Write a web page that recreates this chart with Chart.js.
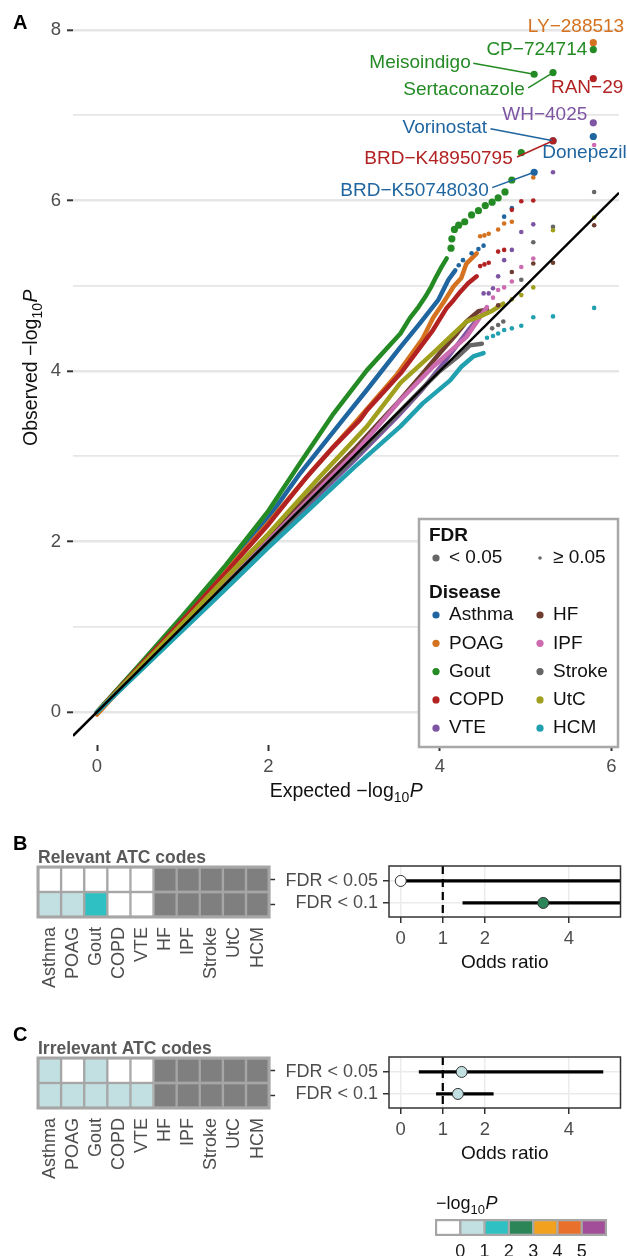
<!DOCTYPE html>
<html>
<head>
<meta charset="utf-8">
<script src="https://cdn.jsdelivr.net/npm/chart.js@4.4.1/dist/chart.umd.min.js"></script>
<style>
  body { margin: 0; background: #fff; }
  #page { position: relative; width: 627px; height: 1256px; overflow: hidden; font-family: "Liberation Sans", Arial, sans-serif; }
  canvas { position: absolute; }
  .tag { position: absolute; font-weight: bold; font-size: 20px; line-height: 20px; color: #000; }
</style>
</head>
<body>
<div id="page">
  <canvas id="qq" width="627" height="812" style="left:0;top:0"></canvas>
  <canvas id="heatB" width="290" height="160" style="left:0;top:845px"></canvas>
  <canvas id="forestB" width="347" height="140" style="left:280px;top:845px"></canvas>
  <canvas id="heatC" width="290" height="160" style="left:0;top:1036px"></canvas>
  <canvas id="forestC" width="347" height="140" style="left:280px;top:1036px"></canvas>
  <canvas id="key" width="207" height="70" style="left:420px;top:1190px"></canvas>
  <div class="tag" style="left:13px;top:12px">A</div>
  <div class="tag" style="left:13px;top:833px">B</div>
  <div class="tag" style="left:13px;top:1024px">C</div>
</div>
<script>
// ---- data ----
const diseases = ['Asthma', 'POAG', 'Gout', 'COPD', 'VTE', 'HF', 'IPF', 'Stroke', 'UtC', 'HCM'];
const diseaseColors = ['#1f65a0', '#d4721f', '#248b24', '#b22222', '#7d55a3', '#6e3d30', '#cc6bb0', '#666666', '#a0a01e', '#21a0b0'];

// dense part of each QQ curve [expected, observed]
const bulkAsthma = [[0,0],[0.5,0.55],[1,1.11],[1.5,1.69],[2,2.28],[2.37,2.80],[2.87,3.43],[3.15,3.78],[3.54,4.28],[3.76,4.55],[3.98,4.83],[4.10,5.07],[4.18,5.18]];
const bulkPOAG = [[0,-0.03],[0.5,0.52],[1,1.08],[1.5,1.65],[2,2.22],[2.5,2.82],[3,3.38],[3.5,3.96],[3.8,4.38],[3.92,4.62],[4.04,4.80],[4.16,4.99],[4.25,5.09],[4.31,5.26],[4.43,5.38]];
const bulkGout = [[0,0],[0.5,0.56],[1,1.13],[1.5,1.72],[2,2.36],[2.37,2.92],[2.76,3.50],[3.15,4.01],[3.54,4.44],[3.65,4.62],[3.75,4.75],[3.83,4.87],[3.90,4.99],[3.96,5.11],[4.02,5.22],[4.08,5.32]];
const bulkCOPD = [[0,0],[0.5,0.54],[1,1.08],[1.5,1.63],[2,2.20],[2.45,2.76],[2.76,3.11],[3.07,3.43],[3.15,3.54],[3.54,3.97],[3.75,4.25],[3.92,4.48],[4.08,4.74],[4.16,4.83],[4.24,4.93],[4.33,5.03],[4.43,5.11]];
const bulkVTE = [[0,0],[0.5,0.49],[1,0.98],[1.5,1.47],[2,1.96],[2.5,2.46],[3,2.95],[3.5,3.46],[3.8,3.79],[4.0,4.04],[4.2,4.30],[4.35,4.50],[4.45,4.62]];
const bulkHF = [[0,0],[0.5,0.51],[1,1.02],[1.5,1.53],[2,2.05],[2.5,2.57],[3,3.08],[3.5,3.62],[3.8,3.97],[4.0,4.21],[4.2,4.44],[4.31,4.58],[4.45,4.70],[4.55,4.72]];
const bulkIPF = [[0,0],[0.5,0.50],[1,1.0],[1.5,1.50],[2,2.01],[2.5,2.52],[3,3.03],[3.54,3.66],[3.92,4.05],[4.31,4.40],[4.55,4.75]];
const bulkStroke = [[0,0],[0.5,0.50],[1,1.0],[1.5,1.49],[2,1.99],[2.5,2.49],[3,2.98],[3.5,3.49],[3.8,3.80],[4.0,4.00],[4.2,4.16],[4.35,4.30],[4.49,4.32]];
const bulkUtC = [[0,0],[0.5,0.52],[1,1.04],[1.5,1.57],[2,2.09],[2.60,2.76],[3.15,3.35],[3.54,3.86],[3.92,4.21],[4.12,4.40],[4.31,4.58],[4.47,4.64],[4.60,4.70],[4.74,4.79]];
const bulkHCM = [[0,0],[0.5,0.48],[1,0.96],[1.5,1.44],[2,1.93],[2.5,2.40],[3,2.87],[3.54,3.35],[3.80,3.62],[4.12,3.89],[4.25,4.05],[4.39,4.17],[4.51,4.21]];

// sparse tail points [expected, observed, FDR<0.05]
const tailAsthma = [[4.22,5.24,0],[4.27,5.30,0],[4.37,5.38,0],[4.45,5.43,0],[4.51,5.47,0],[4.75,5.81,0],[4.84,5.91,0],[5.10,6.33,1],[5.32,6.70,1],[5.79,6.75,1]];
const tailPOAG = [[4.47,5.58,0],[4.52,5.59,0],[4.57,5.61,0],[4.68,5.66,0],[4.75,5.73,0],[4.84,5.75,0],[5.09,6.27,0],[5.79,7.85,1]];
const tailGout = [[4.13,5.44,1],[4.14,5.55,1],[4.17,5.66,1],[4.22,5.71,1],[4.29,5.75,1],[4.37,5.83,1],[4.45,5.88,1],[4.53,5.94,1],[4.61,5.98,1],[4.68,6.03,1],[4.76,6.10,1],[4.84,6.24,1],[4.95,6.56,1],[5.10,7.48,1],[5.32,7.50,1],[5.79,7.77,1]];
const tailCOPD = [[4.47,5.23,0],[4.52,5.25,0],[4.57,5.27,0],[4.68,5.40,0],[4.75,5.42,0],[4.84,5.89,0],[4.95,5.99,0],[5.09,6.00,0],[5.32,6.70,1],[5.79,7.43,1]];
const tailVTE = [[4.51,4.91,0],[4.57,4.91,0],[4.62,4.97,0],[4.68,5.11,0],[4.75,5.30,0],[4.84,5.42,0],[4.95,5.63,0],[5.09,5.72,0],[5.32,6.33,0],[5.79,6.91,1]];
const tailHF = [[4.68,4.77,0],[4.84,5.16,0],[5.09,5.26,0],[5.32,5.27,0],[5.80,5.71,0]];
const tailIPF = [[4.62,4.86,0],[4.68,4.95,0],[4.75,4.98,0],[4.84,5.05,0],[4.95,5.22,0],[5.09,5.32,0],[5.80,6.65,0]];
const tailStroke = [[4.61,4.50,0],[4.68,4.54,0],[4.74,4.58,0],[4.95,5.07,0],[5.09,5.51,0],[5.32,5.69,0],[5.80,6.10,0]];
const tailUtC = [[4.84,4.84,0],[4.95,4.89,0],[5.09,4.98,0],[5.32,5.65,0],[5.80,5.80,0]];
const tailHCM = [[4.55,4.39,0],[4.62,4.41,0],[4.68,4.44,0],[4.75,4.48,0],[4.84,4.50,0],[4.95,4.53,0],[5.09,4.63,0],[5.32,4.64,0],[5.80,4.74,0]];

// labelled drugs
const labelNames = ['LY\u2212288513', 'CP\u2212724714', 'Meisoindigo', 'Sertaconazole', 'RAN\u221229', 'WH\u22124025', 'Vorinostat', 'BRD\u2212K48950795', 'Donepezil', 'BRD\u2212K50748030'];
const labelDisease = ['POAG', 'Gout', 'Gout', 'Gout', 'COPD', 'VTE', 'Asthma', 'COPD', 'Asthma', 'Asthma'];
const labelTarget = [[5.79,7.85],[5.79,7.77],[5.10,7.48],[5.32,7.50],[5.79,7.43],[5.79,6.91],[5.32,6.70],[5.32,6.70],[5.79,6.75],[5.10,6.33]];

// heatmaps: -log10 P per disease (null = not tested)
const rowLabels = ['FDR < 0.05', 'FDR < 0.1'];
const relevant05 = [0, 0, 0, 0, 0, null, null, null, null, null];
const relevant10 = [0.4, 0.4, 1.3, 0, 0, null, null, null, null, null];
const irrelevant05 = [0.4, 0, 0.4, 0, 0, null, null, null, null, null];
const irrelevant10 = [0.4, 0.4, 0.4, 0.4, 0.4, null, null, null, null, null];

// odds ratios (rows: FDR < 0.05, FDR < 0.1)
const relOR = [0, 3.39], relLo = [0, 1.47], relHi = [Infinity, Infinity], relP = [0, 2.5];
const irrOR = [1.45, 1.36], irrLo = [0.43, 0.84], irrHi = [4.82, 2.21], irrP = [0.6, 0.5];
const orTicks = [0, 1, 2, 4];

// colour key
const keyBreaks = [0, 1, 2, 3, 4, 5];
const keyColors = ['#ffffff', '#c2e0e1', '#2ec0c2', '#2b8557', '#f2a11f', '#e8702a', '#a24e98'];

// ---- layout / style ----
const FONT = '"Liberation Sans", Arial, Helvetica, sans-serif';
Chart.defaults.font.family = FONT;
Chart.defaults.animation = false;
Chart.defaults.events = [];
Chart.defaults.plugins.legend.display = false;
Chart.defaults.plugins.tooltip.enabled = false;

const labelAt = [[6.15,8.04],[5.72,7.77],[4.36,7.62],[4.99,7.30],[6.14,7.32],[5.72,7.01],[4.55,6.85],[4.85,6.49],[6.18,6.56],[4.57,6.11]];
const labelLead = [null, null, [4.39,7.61], [5.03,7.32], null, null, [4.59,6.84], [4.90,6.51], null, [4.61,6.15]];

function fillFor(v) {
  if (v === null) return '#7f7f7f';
  if (v <= 0) return keyColors[0];
  return keyColors[Math.min(keyColors.length - 1, Math.floor(v) + 1)];
}

function logWidth(ctx, prefix, size) {
  ctx.font = size + 'px ' + FONT; const w1 = ctx.measureText(prefix + '\u2212log').width;
  ctx.font = Math.round(size * 0.72) + 'px ' + FONT; const w2 = ctx.measureText('10').width;
  ctx.font = 'italic ' + size + 'px ' + FONT; const w3 = ctx.measureText('P').width;
  return [w1, w2, w3];
}

function drawLogText(ctx, prefix, x, y, color, size) {
  const [w1, w2, w3] = logWidth(ctx, prefix, size);
  const sx = x - (w1 + w2 + w3) / 2;
  ctx.fillStyle = color; ctx.textAlign = 'left'; ctx.textBaseline = 'alphabetic';
  ctx.font = size + 'px ' + FONT; ctx.fillText(prefix + '\u2212log', sx, y);
  ctx.font = Math.round(size * 0.72) + 'px ' + FONT; ctx.fillText('10', sx + w1, y + 5);
  ctx.font = 'italic ' + size + 'px ' + FONT; ctx.fillText('P', sx + w1 + w2 + 0.5, y);
}

// ---- panel A ----
const bulks = [bulkAsthma, bulkPOAG, bulkGout, bulkCOPD, bulkVTE, bulkHF, bulkIPF, bulkStroke, bulkUtC, bulkHCM];
const tails = [tailAsthma, tailPOAG, tailGout, tailCOPD, tailVTE, tailHF, tailIPF, tailStroke, tailUtC, tailHCM];
const qqSets = [];
diseases.forEach((d, i) => {
  qqSets.push({
    label: d, data: bulks[i].map(p => ({x: p[0], y: p[1]})),
    showLine: true, borderColor: diseaseColors[i], borderWidth: 4.5, pointRadius: 0,
    borderCapStyle: 'round', borderJoinStyle: 'round', order: 30 - i
  });
  qqSets.push({
    label: d + ' tail', data: tails[i].map(p => ({x: p[0], y: p[1], sig: p[2]})),
    backgroundColor: diseaseColors[i], borderWidth: 0,
    pointRadius: c => (c.raw && c.raw.sig ? 3.6 : 2.3), order: 20 - i
  });
});

const qqDecor = {
  id: 'qqDecor',
  afterDatasetsDraw(chart) {
    const {ctx, chartArea: a} = chart;
    const x = chart.scales.x, y = chart.scales.y;
    ctx.save();
    ctx.beginPath(); ctx.rect(a.left, a.top, a.right - a.left, a.bottom - a.top); ctx.clip();
    const lo = Math.max(x.min, y.min), hi = Math.min(x.max, y.max);
    ctx.strokeStyle = '#000'; ctx.lineWidth = 2.5;
    ctx.beginPath();
    ctx.moveTo(x.getPixelForValue(lo), y.getPixelForValue(lo));
    ctx.lineTo(x.getPixelForValue(hi), y.getPixelForValue(hi));
    ctx.stroke();
    ctx.restore();

    // drug labels
    ctx.save();
    ctx.font = '19px ' + FONT; ctx.textAlign = 'right'; ctx.textBaseline = 'middle';
    labelNames.forEach((name, i) => {
      const col = diseaseColors[diseases.indexOf(labelDisease[i])];
      ctx.fillStyle = col; ctx.strokeStyle = col; ctx.lineWidth = 1.5;
      ctx.fillText(name, x.getPixelForValue(labelAt[i][0]), y.getPixelForValue(labelAt[i][1]));
      if (labelLead[i]) {
        ctx.beginPath();
        ctx.moveTo(x.getPixelForValue(labelLead[i][0]), y.getPixelForValue(labelLead[i][1]));
        ctx.lineTo(x.getPixelForValue(labelTarget[i][0]), y.getPixelForValue(labelTarget[i][1]));
        ctx.stroke();
      }
    });
    ctx.restore();

    // legend box
    const bx = a.right - 200, by = a.bottom - 226, bw = 199, bh = 228;
    ctx.save();
    ctx.fillStyle = '#fff'; ctx.fillRect(bx, by, bw, bh);
    ctx.strokeStyle = '#a8a8a8'; ctx.lineWidth = 2.5; ctx.strokeRect(bx, by, bw, bh);
    ctx.textAlign = 'left'; ctx.textBaseline = 'middle'; ctx.fillStyle = '#111';
    ctx.font = 'bold 19px ' + FONT;
    ctx.fillText('FDR', bx + 10, by + 17);
    ctx.fillText('Disease', bx + 10, by + 74);
    ctx.font = '19px ' + FONT;
    ctx.fillStyle = '#666';
    ctx.beginPath(); ctx.arc(bx + 17, by + 39, 3.6, 0, 2 * Math.PI); ctx.fill();
    ctx.beginPath(); ctx.arc(bx + 121, by + 39, 1.8, 0, 2 * Math.PI); ctx.fill();
    ctx.fillStyle = '#111';
    ctx.fillText('< 0.05', bx + 30, by + 39);
    ctx.fillText('\u2265 0.05', bx + 134, by + 39);
    diseases.forEach((d, i) => {
      const col = Math.floor(i / 5), row = i % 5;
      const px = bx + 17 + col * 104, py = by + 96 + row * 28.3;
      ctx.fillStyle = diseaseColors[i];
      ctx.beginPath(); ctx.arc(px, py, 3.6, 0, 2 * Math.PI); ctx.fill();
      ctx.fillStyle = '#111';
      ctx.fillText(d, px + 13, py);
    });
    ctx.restore();
  },
  afterDraw(chart) {
    const {ctx, chartArea: a} = chart;
    ctx.save();
    drawLogText(ctx, 'Expected ', (a.left + a.right) / 2, 797, '#111', 19.5);
    ctx.translate(37, 368); ctx.rotate(-Math.PI / 2);
    drawLogText(ctx, 'Observed ', 0, 0, '#111', 19.5);
    ctx.restore();
  }
};

new Chart(document.getElementById('qq'), {
  type: 'scatter',
  data: {datasets: qqSets},
  options: {
    responsive: false, devicePixelRatio: 1,
    layout: {padding: {top: 18, right: 8, left: 0, bottom: 0}},
    scales: {
      x: {
        type: 'linear', min: -0.28, max: 6.09,
        afterBuildTicks: s => { s.ticks = [0, 2, 4, 6].map(v => ({value: v})); },
        afterFit: s => { s.height = 67; },
        grid: {drawOnChartArea: false, tickColor: '#333', tickLength: 6, tickWidth: 2},
        border: {display: false},
        ticks: {color: '#4d4d4d', font: {size: 18.5}, padding: 5}
      },
      y: {
        type: 'linear', min: -0.387, max: 8.14,
        afterBuildTicks: s => { s.ticks = [0, 1, 2, 3, 4, 5, 6, 7, 8].map(v => ({value: v})); },
        afterFit: s => { s.width = 73; },
        grid: {
          color: '#e6e6e6',
          lineWidth: c => (c.tick && c.tick.value % 2 === 0 ? 2.6 : 1.8),
          tickColor: c => (c.tick && c.tick.value % 2 === 0 ? '#333' : 'rgba(0,0,0,0)'),
          tickLength: 6, tickWidth: 2
        },
        border: {display: false},
        ticks: {color: '#4d4d4d', font: {size: 18.5}, padding: 6, callback: v => (v % 2 === 0 ? v : '')}
      }
    }
  },
  plugins: [qqDecor]
});

// ---- heatmaps ----
function heatmap(id, title, row05, row10) {
  const deco = {
    id: 'heatDeco',
    afterDraw(chart) {
      const {ctx, chartArea: a} = chart;
      ctx.save();
      ctx.strokeStyle = '#a6a6a6'; ctx.lineWidth = 3;
      ctx.strokeRect(a.left, a.top, a.right - a.left, a.bottom - a.top);
      ctx.fillStyle = '#595959'; ctx.font = 'bold 17.5px ' + FONT;
      ctx.textAlign = 'left'; ctx.textBaseline = 'middle';
      ctx.fillText(title, a.left, 13);
      ctx.restore();
    }
  };
  const cell = vals => ({
    data: diseases.map(() => 1), vals: vals,
    backgroundColor: c => fillFor(c.dataset.vals[c.dataIndex]),
    borderColor: '#a6a6a6', borderWidth: 1.5, borderSkipped: false,
    barPercentage: 1, categoryPercentage: 1
  });
  new Chart(document.getElementById(id), {
    type: 'bar',
    data: {labels: diseases, datasets: [
      Object.assign({label: rowLabels[1]}, cell(row10)),
      Object.assign({label: rowLabels[0]}, cell(row05))
    ]},
    options: {
      responsive: false, devicePixelRatio: 1,
      layout: {padding: {left: 38, top: 22, right: 0, bottom: 0}},
      scales: {
        x: {
          stacked: true,
          grid: {display: false, drawTicks: false},
          border: {display: false},
          afterFit: s => { s.height = 88; },
          ticks: {color: '#4d4d4d', font: {size: 18}, minRotation: 90, maxRotation: 90, padding: 10, autoSkip: false}
        },
        y: {
          stacked: true, min: 0, max: 2, position: 'right',
          afterBuildTicks: s => { s.ticks = [0.5, 1.5].map(v => ({value: v})); },
          afterFit: s => { s.width = 17; },
          grid: {drawOnChartArea: false, tickColor: '#333', tickLength: 6, tickWidth: 1.5},
          border: {display: false},
          ticks: {callback: () => ''}
        }
      }
    },
    plugins: [deco]
  });
}
heatmap('heatB', 'Relevant ATC codes', relevant05, relevant10);
heatmap('heatC', 'Irrelevant ATC codes', irrelevant05, irrelevant10);

// ---- forest plots ----
function forest(id, or, lo, hi, pv) {
  const rowY = [2, 1];
  const deco = {
    id: 'forestDeco',
    beforeDatasetsDraw(chart) {
      const {ctx, chartArea: a} = chart;
      const px = chart.scales.x.getPixelForValue(1);
      ctx.save();
      ctx.strokeStyle = '#000'; ctx.lineWidth = 2.2; ctx.setLineDash([8, 5]);
      ctx.beginPath(); ctx.moveTo(px, a.top); ctx.lineTo(px, a.bottom); ctx.stroke();
      ctx.restore();
    },
    afterDraw(chart) {
      const {ctx, chartArea: a} = chart;
      ctx.save();
      ctx.strokeStyle = '#333'; ctx.lineWidth = 1.5;
      ctx.strokeRect(a.left, a.top, a.right - a.left, a.bottom - a.top);
      ctx.fillStyle = '#111'; ctx.font = '19px ' + FONT;
      ctx.textAlign = 'center'; ctx.textBaseline = 'middle';
      ctx.fillText('Odds ratio', (a.left + a.right) / 2, a.bottom + 46);
      ctx.restore();
    }
  };
  const sets = or.map((v, r) => ({
    data: [{x: lo[r], y: rowY[r]}, {x: Math.min(hi[r], 100), y: rowY[r]}],
    showLine: true, borderColor: '#000', borderWidth: 3.2, pointRadius: 0, order: 2
  }));
  sets.push({
    data: or.map((v, r) => ({x: v, y: rowY[r]})),
    backgroundColor: c => fillFor(pv[c.dataIndex]), borderColor: '#333', borderWidth: 1,
    pointRadius: 5.5, order: 0
  });
  new Chart(document.getElementById(id), {
    type: 'scatter',
    data: {datasets: sets},
    options: {
      responsive: false, devicePixelRatio: 1,
      layout: {padding: {left: 0, top: 21, right: 1, bottom: 0}},
      scales: {
        x: {
          type: 'linear', min: -0.28, max: 5.23,
          afterBuildTicks: s => { s.ticks = orTicks.map(v => ({value: v})); },
          afterFit: s => { s.height = 68; },
          grid: {color: '#ebebeb', lineWidth: 1.5, tickColor: '#333', tickLength: 6, tickWidth: 1.5},
          border: {display: false},
          ticks: {color: '#4d4d4d', font: {size: 18.5}, padding: 5}
        },
        y: {
          type: 'linear', min: 0.36, max: 2.68,
          afterBuildTicks: s => { s.ticks = rowY.map(v => ({value: v})); },
          afterFit: s => { s.width = 109; },
          grid: {color: '#ebebeb', lineWidth: 1.5, tickColor: '#333', tickLength: 6, tickWidth: 1.5},
          border: {display: false},
          ticks: {color: '#4d4d4d', font: {size: 18}, padding: 5, callback: v => rowLabels[rowY.indexOf(v)]}
        }
      }
    },
    plugins: [deco]
  });
}
forest('forestB', relOR, relLo, relHi, relP);
forest('forestC', irrOR, irrLo, irrHi, irrP);

// ---- colour key ----
new Chart(document.getElementById('key'), {
  type: 'bar',
  data: {labels: [''], datasets: keyColors.map(c => ({
    data: [1], backgroundColor: c, borderColor: '#a6a6a6', borderWidth: 1.5, borderSkipped: false,
    barPercentage: 1, categoryPercentage: 1
  }))},
  options: {
    responsive: false, devicePixelRatio: 1, indexAxis: 'y',
    layout: {padding: {left: 16, top: 30, right: 21, bottom: 0}},
    scales: {
      x: {
        stacked: true, min: 0, max: keyColors.length,
        afterBuildTicks: s => { s.ticks = keyBreaks.map((b, i) => ({value: i + 1})); },
        afterFit: s => { s.height = 25; },
        grid: {display: false, drawTicks: false},
        border: {display: false},
        ticks: {color: '#1a1a1a', font: {size: 18}, padding: 6, callback: v => keyBreaks[v - 1]}
      },
      y: {stacked: true, display: false}
    }
  },
  plugins: [{
    id: 'keyDeco',
    afterDraw(chart) {
      const {ctx, chartArea: a} = chart;
      ctx.save();
      ctx.strokeStyle = '#a6a6a6'; ctx.lineWidth = 2;
      ctx.strokeRect(a.left, a.top, a.right - a.left, a.bottom - a.top);
      const w = logWidth(ctx, '', 18);
      drawLogText(ctx, '', a.left + (w[0] + w[1] + w[2]) / 2, 19, '#111', 18);
      ctx.restore();
    }
  }]
});
</script>
</body>
</html>
